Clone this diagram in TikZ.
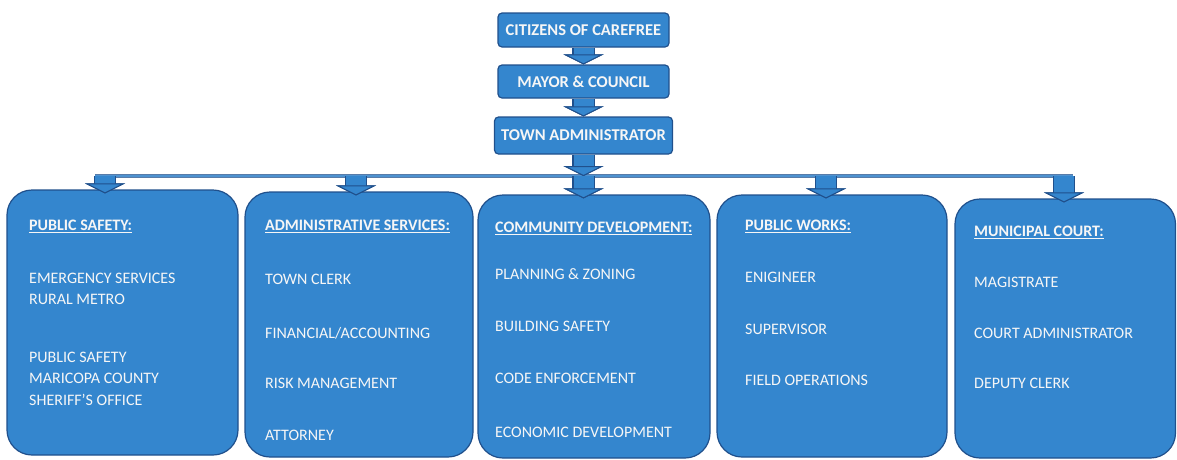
\documentclass[tikz,border=0pt]{standalone}
\usepackage{fontspec}
\setmainfont{Carlito}
\usetikzlibrary{arrows.meta,calc}
\definecolor{boxblue}{RGB}{52,134,206}
\definecolor{edgeblue}{RGB}{32,80,140}
\definecolor{busblue}{RGB}{78,146,208}
\definecolor{txtwhite}{RGB}{246,246,246}
\tikzset{
  topbox/.style={draw=edgeblue, fill=boxblue, line width=1.2pt, rounded corners=4pt, inner sep=0pt,
    text=txtwhite, font=\fontsize{16.5}{19}\selectfont\bfseries},
  unitbox/.style={draw=edgeblue, fill=boxblue, line width=1.2pt, rounded corners=25pt, inner sep=0pt},
  hdr/.style={anchor=west, inner sep=0pt, text=txtwhite, text height=11pt, text depth=0pt,
    font=\fontsize{16}{19}\selectfont\bfseries},
  item/.style={anchor=west, inner sep=0pt, text=txtwhite, text height=11pt, text depth=0pt,
    font=\fontsize{16}{19}\selectfont},
  barrow/.style={draw=boxblue, line width=20pt,
    -{Triangle[width=40pt 0, length=10pt 0, line width=1pt 0, color=edgeblue, fill=boxblue]},
    preaction={draw=edgeblue, line width=22.4pt, -{Triangle[width=40pt 0, length=10pt 0]}}},
  bus/.style={draw=busblue, line width=2.6pt, preaction={draw=edgeblue!75, line width=4.4pt}}
}
\begin{document}
\begin{tikzpicture}[x=1pt, y=-1pt]
  \useasboundingbox (0,0) rectangle (1177,459);

  \node[topbox, minimum width=171pt, minimum height=34pt] (cit)   at (583.5,30)    {CITIZENS OF CAREFREE};
  \node[topbox, minimum width=171pt, minimum height=33pt] (mayor) at (583.5,81.5)  {MAYOR \& COUNCIL};
  \node[topbox, minimum width=178pt, minimum height=37pt] (admin) at (583.5,135.5) {TOWN ADMINISTRATOR};

  \node[unitbox, minimum width=231pt, minimum height=265pt]   (ps) at (122.5,322.5)  {};
  \node[unitbox, minimum width=228pt, minimum height=265pt]   (as) at (359,324.5)    {};
  \node[unitbox, minimum width=232pt, minimum height=263pt]   (cd) at (594,326.5)    {};
  \node[unitbox, minimum width=230pt, minimum height=262pt]   (pw) at (832,326)      {};
  \node[unitbox, minimum width=220.5pt, minimum height=259pt] (mc) at (1065.25,328.5) {};

  \node[hdr]  (ps0) at (29,225) {\underline{PUBLIC SAFETY:}};
  \node[item] (ps1) at (29,278) {EMERGENCY SERVICES};
  \node[item] (ps2) at (29,299) {RURAL METRO};
  \node[item] (ps3) at (29,357) {PUBLIC SAFETY};
  \node[item] (ps4) at (29,378) {MARICOPA COUNTY};
  \node[item] (ps5) at (29,400) {SHERIFF'S OFFICE};

  \node[hdr]  (as0) at (265,225) {\underline{ADMINISTRATIVE SERVICES:}};
  \node[item] (as1) at (265,279) {TOWN CLERK};
  \node[item] (as2) at (265,333) {FINANCIAL/ACCOUNTING};
  \node[item] (as3) at (265,383) {RISK MANAGEMENT};
  \node[item] (as4) at (265,435) {ATTORNEY};

  \node[hdr]  (cd0) at (495,227) {\underline{COMMUNITY DEVELOPMENT:}};
  \node[item] (cd1) at (495,274) {PLANNING \& ZONING};
  \node[item] (cd2) at (495,326) {BUILDING SAFETY};
  \node[item] (cd3) at (495,378) {CODE ENFORCEMENT};
  \node[item] (cd4) at (495,432) {ECONOMIC DEVELOPMENT};

  \node[hdr]  (pw0) at (745,225) {\underline{PUBLIC WORKS:}};
  \node[item] (pw1) at (745,277) {ENIGINEER};
  \node[item] (pw2) at (745,329) {SUPERVISOR};
  \node[item] (pw3) at (745,380) {FIELD OPERATIONS};

  \node[hdr]  (mc0) at (974,231) {\underline{MUNICIPAL COURT:}};
  \node[item] (mc1) at (974,282) {MAGISTRATE};
  \node[item] (mc2) at (974,333) {COURT ADMINISTRATOR};
  \node[item] (mc3) at (974,383) {DEPUTY CLERK};

  \coordinate (busL) at (95,176);
  \coordinate (busR) at (1073,176);
  \coordinate (b1) at (105,176);
  \coordinate (b2) at (356,176);
  \coordinate (b3) at (583.5,176);
  \coordinate (b4) at (826,176);
  \coordinate (b5) at (1064,176);

  \draw[bus] (busL) -- (busR);
  \draw[barrow] (cit) -- (mayor);
  \draw[barrow] (mayor) -- (admin);
  \draw[barrow] (admin) -- (b3);
  \draw[barrow] (b1) -- ($(b1 |- ps.north)+(0,4)$);
  \draw[barrow] (b2) -- ($(b2 |- as.north)+(0,4)$);
  \draw[barrow] (b3) -- ($(b3 |- cd.north)+(0,4)$);
  \draw[barrow] (b4) -- ($(b4 |- pw.north)+(0,4)$);
  \draw[barrow] (b5) -- ($(b5 |- mc.north)+(0,4)$);
\end{tikzpicture}
\end{document}
